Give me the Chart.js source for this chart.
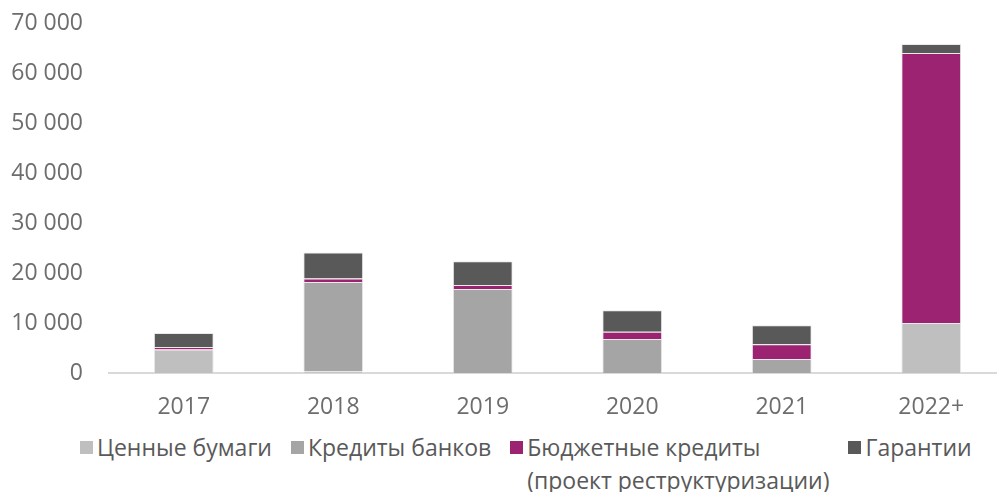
<!DOCTYPE html>
<html>
<head>
<meta charset="utf-8">
<script src="https://cdn.jsdelivr.net/npm/chart.js@4/dist/chart.umd.min.js"></script>
<style>
  body { margin: 0; overflow: hidden; background: #fff; }
  #wrap { position: relative; width: 1006px; height: 430px; }
  #legend {
    position: absolute; left: 80px; top: 431px;
    display: flex; gap: 19px;
    font: 23px "Open Sans", sans-serif; color: #595959; line-height: 33px;
  }
  .item { display: flex; align-items: flex-start; white-space: pre-line; }
  .box { width: 13px; height: 13px; margin: 10px 4px 0 0; flex: none; }
</style>
</head>
<body>
<div id="wrap"><canvas id="chart"></canvas></div>
<div id="legend"></div>
<script>
const years = ["2017", "2018", "2019", "2020", "2021", "2022+"];
const securities = [4700, 300, 0, 0, 0, 10000];
const bankLoans = [0, 17900, 16800, 6800, 2800, 0];
const budgetLoans = [500, 700, 800, 1450, 2950, 54000];
const guarantees = [2800, 5200, 4750, 4300, 3800, 1800];
const yTicks = [0, 10000, 20000, 30000, 40000, 50000, 60000, 70000];

const names = ["Ценные бумаги", "Кредиты банков", "Бюджетные кредиты\n(проект реструктуризации)", "Гарантии"];
const colors = ["#bfbfbf", "#a5a5a5", "#9b2371", "#595959"];

const series = [securities, bankLoans, budgetLoans, guarantees];

const fmt = v => String(v).replace(/\B(?=(\d{3})+(?!\d))/g, " ");

new Chart(document.getElementById("chart").getContext("2d"), {
  type: "bar",
  data: {
    labels: years,
    datasets: series.map((d, i) => ({
      label: names[i].replace("\n", " "),
      data: d,
      backgroundColor: colors[i],
      borderColor: "rgba(225,225,225,0.7)",
      borderWidth: 1,
      categoryPercentage: 0.4,
      barPercentage: 1
    }))
  },
  options: {
    responsive: true,
    maintainAspectRatio: false,
    animation: false,
    layout: { padding: { top: 23, right: 0, left: 0, bottom: 0 } },
    plugins: { legend: { display: false }, tooltip: { enabled: false } },
    scales: {
      x: {
        stacked: true,
        grid: { display: false, drawTicks: false },
        border: { color: "#d9d9d9", width: 2 },
        ticks: { color: "#6d6d6d", font: { family: "Open Sans", size: 23 }, padding: 21 },
        afterFit: s => { s.height = 57; }
      },
      y: {
        stacked: true,
        min: 0,
        max: 70000,
        afterBuildTicks: s => { s.ticks = yTicks.map(v => ({ value: v })); },
        grid: { display: false, drawTicks: false },
        border: { display: false },
        ticks: {
          color: "#6d6d6d",
          font: { family: "Open Sans", size: 23 },
          padding: 26,
          callback: v => fmt(v)
        },
        afterFit: s => { s.width = 109; s.paddingTop = 0; }
      }
    }
  }
});

const legend = document.getElementById("legend");
names.forEach((n, i) => {
  const item = document.createElement("div");
  item.className = "item";
  const box = document.createElement("span");
  box.className = "box";
  box.style.background = colors[i];
  const txt = document.createElement("span");
  txt.textContent = n;
  item.appendChild(box);
  item.appendChild(txt);
  legend.appendChild(item);
});
</script>
</body>
</html>
